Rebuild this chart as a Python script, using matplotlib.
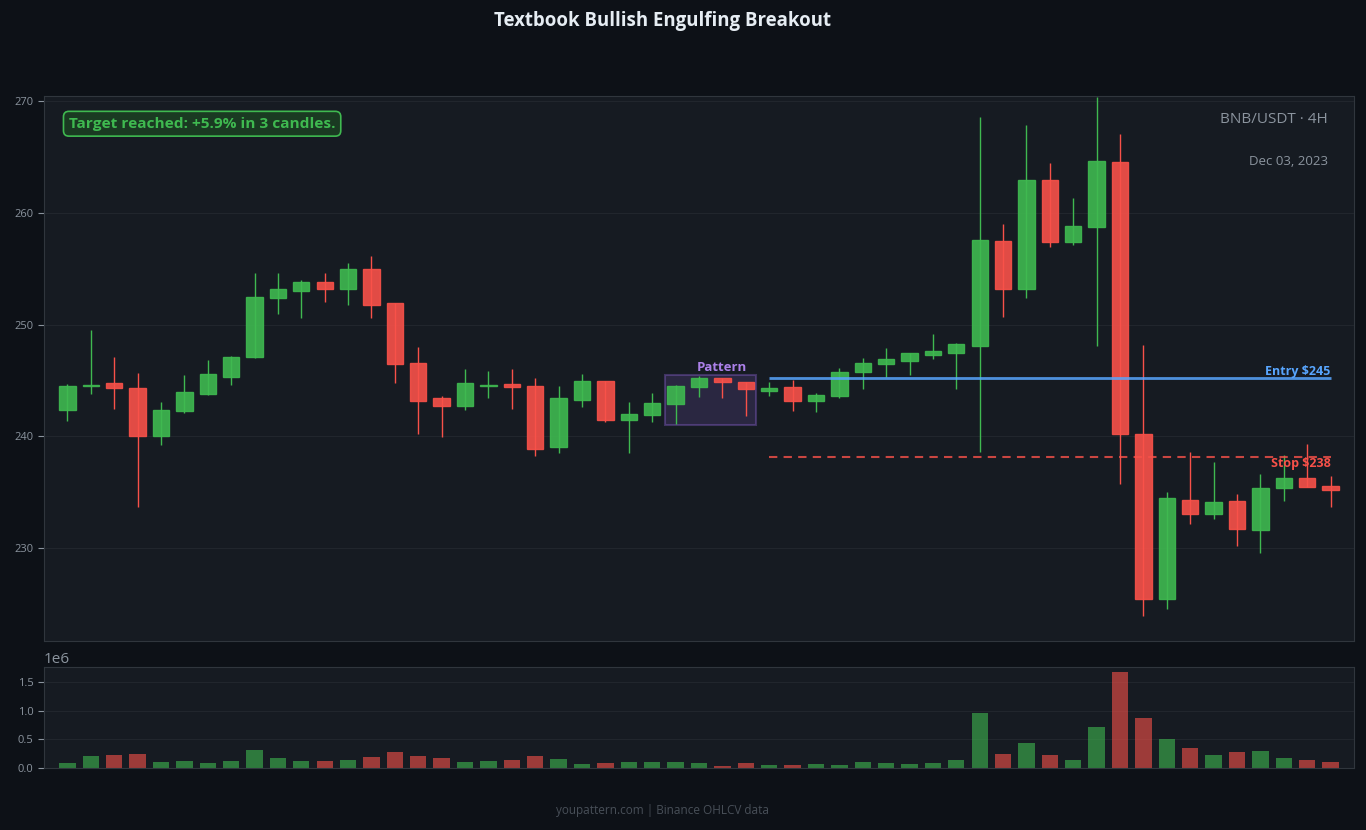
import numpy as np
import matplotlib
matplotlib.use("Agg")
import matplotlib.pyplot as plt
from matplotlib.patches import Rectangle

plt.rcParams['font.family'] = ['Open Sans', 'DejaVu Sans']

# OHLCV, BNB/USDT 4H candles
opens = [242.4, 244.5, 244.75, 244.35, 240.0, 242.3, 243.8, 245.35, 247.1, 252.35,
         253.05, 253.85, 253.2, 254.95, 251.9, 246.6, 243.4, 242.75, 244.55, 244.65,
         244.5, 239.05, 243.3, 245.0, 241.5, 241.95, 242.9, 244.45, 245.25, 244.9,
         244.1, 244.45, 243.2, 243.65, 245.8, 246.5, 246.75, 247.3, 247.5, 248.1,
         257.5, 253.15, 262.9, 257.4, 258.75, 264.55, 240.25, 225.5, 234.35, 233.1,
         234.2, 231.6, 235.35, 236.3, 235.6]
highs = [244.7, 249.5, 247.1, 245.7, 243.05, 245.5, 246.85, 247.2, 254.6, 254.6,
         253.95, 254.65, 255.55, 256.1, 251.95, 248.0, 243.6, 246.0, 245.85, 246.0,
         245.2, 244.5, 245.55, 245.0, 243.05, 243.9, 244.6, 245.4, 245.25, 244.9,
         244.85, 245.05, 243.9, 246.1, 247.0, 247.9, 247.5, 249.15, 248.35, 268.55,
         259.0, 267.9, 264.5, 261.3, 270.4, 267.05, 248.15, 235.0, 238.6, 237.7,
         234.85, 236.65, 238.35, 239.35, 236.5]
lows = [241.4, 243.8, 242.45, 233.7, 239.2, 242.1, 243.75, 244.6, 247.0, 250.95,
        250.6, 252.0, 251.75, 250.6, 244.8, 240.25, 239.95, 242.35, 243.45, 242.45,
        238.25, 238.5, 242.6, 241.25, 238.5, 241.25, 241.1, 243.5, 243.45, 241.85,
        243.6, 242.3, 242.15, 243.45, 244.25, 245.3, 245.5, 246.95, 244.25, 238.6,
        250.7, 252.4, 256.95, 257.15, 248.05, 235.75, 223.95, 224.6, 232.15, 232.65,
        230.2, 229.6, 234.2, 235.45, 233.7]
closes = [244.5, 244.6, 244.3, 240.0, 242.4, 244.0, 245.55, 247.15, 252.5, 253.15,
          253.85, 253.2, 254.95, 251.75, 246.5, 243.2, 242.75, 244.75, 244.6, 244.4,
          238.9, 243.45, 245.0, 241.5, 242.05, 243.0, 244.55, 245.25, 244.85, 244.25,
          244.35, 243.2, 243.75, 245.8, 246.55, 246.9, 247.45, 247.6, 248.3, 257.6,
          253.15, 262.9, 257.4, 258.85, 264.65, 240.2, 225.5, 234.45, 233.05, 234.1,
          231.75, 235.4, 236.25, 235.45, 235.25]
volumes = [88e3, 210e3, 228e3, 245e3, 105e3, 123e3, 88e3, 123e3, 315e3, 175e3,
           123e3, 123e3, 140e3, 193e3, 280e3, 210e3, 175e3, 105e3, 123e3, 140e3,
           210e3, 158e3, 70e3, 88e3, 105e3, 105e3, 105e3, 88e3, 35e3, 88e3,
           53e3, 53e3, 70e3, 53e3, 105e3, 88e3, 70e3, 88e3, 140e3, 963e3,
           245e3, 438e3, 228e3, 140e3, 718e3, 1681e3, 876e3, 508e3, 350e3, 228e3,
           280e3, 298e3, 175e3, 140e3, 105e3]

pattern_start, pattern_end = 26, 29
entry_price = 245.2
stop_price = 238.2
trade_start = 30

BG = '#0d1117'
PANEL = '#161b22'
GRID = '#21262d'
EDGE = '#30363d'
MUTED = '#8b949e'
GREEN = '#3fb950'
RED = '#f85149'
BLUE = '#58a6ff'
PURPLE = '#a371f7'

o = np.array(opens)
h = np.array(highs)
l = np.array(lows)
c = np.array(closes)
v = np.array(volumes)
x = np.arange(len(o))
up = c >= o
colors = np.where(up, GREEN, RED)

fig = plt.figure(figsize=(13.66, 8.3), dpi=100, facecolor=BG)
ax = fig.add_axes([0.0322, 0.2277, 0.959, 0.6566])
axv = fig.add_axes([0.0322, 0.0747, 0.959, 0.1217])

for a in (ax, axv):
    a.set_facecolor(PANEL)
    for s in a.spines.values():
        s.set_color(EDGE)
    a.tick_params(colors=MUTED, labelsize=8, length=4)
    a.grid(axis='y', color=GRID, linewidth=0.8)
    a.set_axisbelow(True)
    a.set_xticks([])
    a.set_xlim(-1, 55)

# candles
ax.vlines(x, l, h, colors=colors, linewidth=1, zorder=2)
body_bottom = np.minimum(o, c)
body_h = np.maximum(np.abs(c - o), 0.08)
ax.bar(x, body_h, bottom=body_bottom, width=0.7, color=colors, alpha=0.9,
       edgecolor=colors, linewidth=1, zorder=3)

# pattern box
p_low = l[pattern_start:pattern_end + 1].min() - 0.1
p_high = h[pattern_start:pattern_end + 1].max() + 0.1
ax.add_patch(Rectangle((pattern_start - 0.45, p_low), pattern_end - pattern_start + 0.9,
                       p_high - p_low, facecolor=PURPLE, alpha=0.15, edgecolor='none', zorder=1))
ax.add_patch(Rectangle((pattern_start - 0.45, p_low), pattern_end - pattern_start + 0.9,
                       p_high - p_low, facecolor='none', edgecolor=PURPLE, alpha=0.3,
                       linewidth=1.5, zorder=1))
ax.text(pattern_start + 2, p_high + 0.05, 'Pattern', color='#bc8cff', fontsize=9.5,
        fontweight='bold', ha='center', va='bottom', alpha=0.9, zorder=5)

# entry / stop
ax.hlines(entry_price, trade_start, len(o) - 1, colors=BLUE, linewidth=2, alpha=0.85, zorder=4)
ax.text(len(o) - 1, entry_price + 0.02, 'Entry $245', color=BLUE, fontsize=9,
        fontweight='bold', ha='right', va='bottom', zorder=5)
ax.hlines(stop_price, trade_start, len(o) - 1, colors=RED, linewidth=1.5, alpha=0.8,
          linestyles=(0, (4, 3)), zorder=4)
ax.text(len(o) - 1, stop_price - 0.05, 'Stop $238', color=RED, fontsize=9,
        fontweight='bold', ha='right', va='top', zorder=5)

ax.set_ylim(221.7, 270.45)
ax.set_yticks([230, 240, 250, 260, 270])

ax.text(0.019, 0.962, 'Target reached: +5.9% in 3 candles.', transform=ax.transAxes,
        color=GREEN, fontsize=11.1, fontweight='bold', ha='left', va='top', zorder=6,
        bbox=dict(boxstyle='round,pad=0.35', facecolor='#1a3a22', edgecolor=GREEN, linewidth=1.2))
ax.text(0.98, 0.97, 'BNB/USDT · 4H', transform=ax.transAxes, color=MUTED, fontsize=11,
        ha='right', va='top')
ax.text(0.98, 0.88, 'Dec 03, 2023', transform=ax.transAxes, color=MUTED, fontsize=9.5,
        ha='right', va='center')

# volume
axv.bar(x, v, width=0.7, color=colors, alpha=0.6, zorder=2)
axv.set_ylim(0, v.max() * 1.05)
axv.set_yticks([0, 0.5e6, 1.0e6, 1.5e6])
axv.yaxis.get_offset_text().set_color(MUTED)
axv.yaxis.get_offset_text().set_fontsize(11)

fig.text(0.485, 0.975, 'Textbook Bullish Engulfing Breakout', color='#e6edf3',
         fontsize=13.4, fontweight='bold', ha='center', va='center')
fig.text(0.485, 0.023, 'youpattern.com | Binance OHLCV data', color='#484f58',
         fontsize=8.5, ha='center', va='center')

fig.savefig('out.png', dpi=100, facecolor=BG)
